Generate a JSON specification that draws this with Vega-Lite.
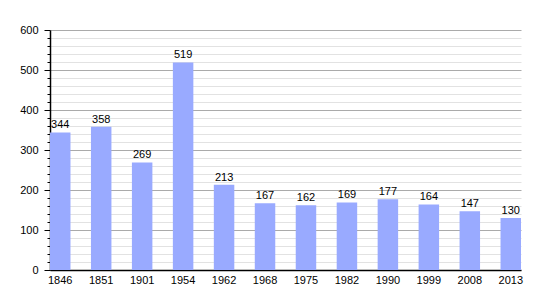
{
  "$schema": "https://vega.github.io/schema/vega-lite/v6.json",
  "autosize": {"type": "none"},
  "padding": {"left": 50, "top": 30, "right": 29, "bottom": 30},
  "width": 471,
  "height": 240,
  "background": "white",
  "config": {
    "view": {"stroke": null},
    "font": "Liberation Sans",
    "axis": {"labelFont": "Liberation Sans", "labelColor": "#000", "labelFontSize": 11}
  },
  "data": {"values": [
    {"year": "1846", "pop": 344},
    {"year": "1851", "pop": 358},
    {"year": "1901", "pop": 269},
    {"year": "1954", "pop": 519},
    {"year": "1962", "pop": 213},
    {"year": "1968", "pop": 167},
    {"year": "1975", "pop": 162},
    {"year": "1982", "pop": 169},
    {"year": "1990", "pop": 177},
    {"year": "1999", "pop": 164},
    {"year": "2008", "pop": 147},
    {"year": "2013", "pop": 130}
  ]},
  "encoding": {
    "x": {
      "field": "year", "type": "ordinal", "sort": null,
      "scale": {"paddingInner": 0.5, "paddingOuter": 0},
      "axis": {"title": null, "labelAngle": 0, "ticks": false, "domainColor": "#000", "domainWidth": 1.5, "labelPadding": 4}
    },
    "y": {
      "field": "pop", "type": "quantitative",
      "scale": {"domain": [0, 600], "nice": false},
      "axis": {
        "title": null,
        "values": [0,20,40,60,80,100,120,140,160,180,200,220,240,260,280,300,320,340,360,380,400,420,440,460,480,500,520,540,560,580,600],
        "labelExpr": "datum.value % 100 === 0 ? datum.label : ''",
        "domainColor": "#000",
        "domainWidth": 1.5,
        "tickColor": "#000",
        "tickSize": {"condition": {"test": "datum.value % 100 === 0", "value": 6}, "value": 3},
        "labelPadding": 6,
        "gridColor": {"condition": {"test": "datum.value % 100 === 0", "value": "#aaaaaa"}, "value": "#e2e2e2"},
        "gridWidth": 1
      }
    }
  },
  "layer": [
    {"mark": {"type": "bar", "color": "#99aaff"}},
    {"mark": {"type": "text", "dy": -7, "fontSize": 11, "color": "#000", "font": "Liberation Sans"},
     "encoding": {"text": {"field": "pop", "type": "quantitative"}}}
  ]
}
